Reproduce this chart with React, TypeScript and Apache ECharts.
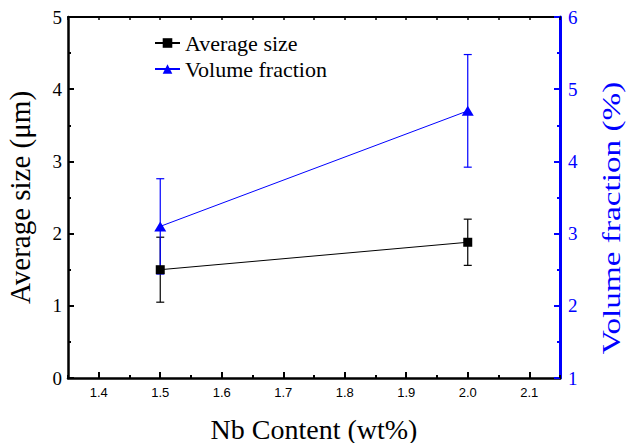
import React, { useEffect, useRef } from "react";
import * as echarts from "echarts";

const nbContent = [1.5, 2.0];
const avgSize = [1.5, 1.88];
const avgSizeErr = [0.45, 0.32];
const volFraction = [3.1, 4.7];
const volFractionErr = [0.66, 0.78];

const BLUE = "#0000ff";
const SERIF = "'Liberation Serif', 'Times New Roman', serif";
const SANS = "'Liberation Sans', Arial, sans-serif";

function errorBarSeries(name: string, ys: number[], errs: number[], color: string, yAxisIndex: number) {
  return {
    name: name + " err",
    type: "custom",
    xAxisIndex: 0,
    yAxisIndex,
    silent: true,
    z: 1,
    encode: { x: 0, y: 1 },
    data: nbContent.map((x, i) => [x, ys[i], errs[i]]),
    renderItem: (params: any, api: any) => {
      const x = api.value(0);
      const y = api.value(1);
      const e = api.value(2);
      const top = api.coord([x, y + e]);
      const bot = api.coord([x, y - e]);
      const hw = 4;
      const style = { stroke: color, lineWidth: 1.2 };
      return {
        type: "group",
        children: [
          { type: "line", shape: { x1: top[0], y1: top[1], x2: bot[0], y2: bot[1] }, style },
          { type: "line", shape: { x1: top[0] - hw, y1: top[1], x2: top[0] + hw, y2: top[1] }, style },
          { type: "line", shape: { x1: bot[0] - hw, y1: bot[1], x2: bot[0] + hw, y2: bot[1] }, style },
        ],
      };
    },
  };
}

export default function App() {
  const ref = useRef<HTMLDivElement>(null);
  useEffect(() => {
    document.body.style.margin = "0";
    if (!ref.current) return;
    const chart = echarts.init(ref.current, null, { renderer: "svg" });
    const xBase = { type: "value", min: 1.35, max: 2.15, splitLine: { show: false } };
    const option: any = {
      animation: false,
      backgroundColor: "#ffffff",
      grid: { left: 68, right: 66, top: 17, bottom: 65, outerBoundsMode: "none" },
      legend: {
        orient: "vertical",
        left: 154,
        top: 32,
        padding: 0,
        itemWidth: 25,
        itemHeight: 12,
        itemGap: 4,
        data: ["Average size", "Volume fraction"],
        textStyle: { fontFamily: SERIF, fontSize: 22, color: "#000", lineHeight: 22 },
      },
      graphic: [
        {
          type: "text",
          x: 612,
          y: 218,
          rotation: Math.PI / 2,
          scaleX: 1.33,
          silent: true,
          style: {
            text: "Volume fraction (%)",
            fontFamily: SERIF,
            fontSize: 25,
            fill: BLUE,
            align: "center",
            verticalAlign: "middle",
          },
        },
      ],
      xAxis: [
        {
          ...xBase,
          position: "bottom",
          splitNumber: 8,
          name: "Nb Content (wt%)",
          nameLocation: "middle",
          nameGap: 37,
          nameTextStyle: { fontFamily: SERIF, fontSize: 28, lineHeight: 28, color: "#000" },
          axisLine: { show: true, onZero: false, lineStyle: { color: "#000", width: 2.5 } },
          axisTick: { show: true, inside: true, length: 6, lineStyle: { color: "#000", width: 2 } },
          axisLabel: {
            show: true,
            showMinLabel: false,
            showMaxLabel: false,
            margin: 8,
            fontFamily: SANS,
            fontSize: 13,
            color: "#000",
            formatter: (v: number) => v.toFixed(1),
          },
        },
        {
          ...xBase,
          position: "bottom",
          interval: 0.05,
          axisLine: { show: false },
          axisTick: { show: true, inside: true, length: 3, lineStyle: { color: "#000", width: 2 } },
          axisLabel: { show: false },
        },
        {
          ...xBase,
          position: "top",
          interval: 0.05,
          axisLine: { show: true, onZero: false, lineStyle: { color: "#000", width: 2 } },
          axisTick: { show: true, inside: true, length: 3, lineStyle: { color: "#000", width: 1.5 } },
          axisLabel: { show: false },
        },
      ],
      yAxis: [
        {
          type: "value",
          position: "left",
          min: 0,
          max: 5,
          interval: 1,
          name: "Average size (\u03bcm)",
          nameLocation: "middle",
          nameGap: 34,
          nameTextStyle: { fontFamily: SERIF, fontSize: 29, lineHeight: 29, color: "#000" },
          splitLine: { show: false },
          axisLine: { show: true, onZero: false, lineStyle: { color: "#000", width: 2.5 } },
          axisTick: { show: true, inside: true, length: 6, lineStyle: { color: "#000", width: 2 } },
          minorTick: { show: true, splitNumber: 2, length: 3, lineStyle: { color: "#000", width: 2 } },
          axisLabel: { margin: 6, fontFamily: SERIF, fontSize: 19, color: "#000" },
        },
        {
          type: "value",
          position: "right",
          min: 1,
          max: 6,
          interval: 1,
          splitLine: { show: false },
          axisLine: { show: true, onZero: false, lineStyle: { color: BLUE, width: 3 } },
          axisTick: { show: true, inside: true, length: 6, lineStyle: { color: BLUE, width: 2 } },
          minorTick: { show: true, splitNumber: 2, length: 3, lineStyle: { color: BLUE, width: 2 } },
          axisLabel: { margin: 8, fontFamily: SERIF, fontSize: 19, color: BLUE },
        },
      ],
      series: [
        errorBarSeries("Average size", avgSize, avgSizeErr, "#000", 0),
        errorBarSeries("Volume fraction", volFraction, volFractionErr, BLUE, 1),
        {
          name: "Average size",
          type: "line",
          xAxisIndex: 0,
          yAxisIndex: 0,
          z: 3,
          symbol: "rect",
          symbolSize: 9,
          itemStyle: { color: "#000" },
          lineStyle: { color: "#000", width: 1 },
          data: nbContent.map((x, i) => [x, avgSize[i]]),
        },
        {
          name: "Volume fraction",
          type: "line",
          xAxisIndex: 0,
          yAxisIndex: 1,
          z: 3,
          symbol: "triangle",
          symbolSize: [12, 10],
          itemStyle: { color: BLUE },
          lineStyle: { color: BLUE, width: 1 },
          data: nbContent.map((x, i) => [x, volFraction[i]]),
        },
      ],
    };
    chart.setOption(option);
    return () => chart.dispose();
  }, []);
  return <div ref={ref} style={{ width: 626, height: 443 }} />;
}
